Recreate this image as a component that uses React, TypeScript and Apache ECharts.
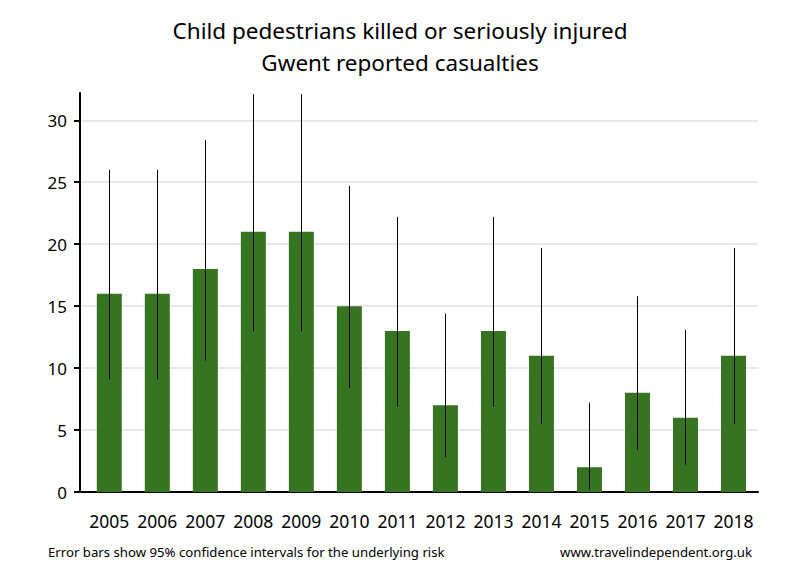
import React, { useEffect, useRef } from "react";
import * as echarts from "echarts";

const years = ["2005", "2006", "2007", "2008", "2009", "2010", "2011", "2012", "2013", "2014", "2015", "2016", "2017", "2018"];
const casualties = [16, 16, 18, 21, 21, 15, 13, 7, 13, 11, 2, 8, 6, 11];
const lowerCI = [9.1, 9.1, 10.6, 13.0, 13.0, 8.4, 6.9, 2.8, 6.9, 5.5, 0.2, 3.4, 2.2, 5.5];
const upperCI = [26.0, 26.0, 28.4, 32.1, 32.1, 24.7, 22.2, 14.4, 22.2, 19.7, 7.2, 15.8, 13.1, 19.7];
const yTicks = [0, 5, 10, 15, 20, 25, 30];

const FONT = "'Noto Sans', 'Open Sans', sans-serif";

export default function App() {
  const ref = useRef<HTMLDivElement>(null);
  useEffect(() => {
    if (!ref.current) return;
    const chart = echarts.init(ref.current, undefined, { renderer: "svg" });
    const idx = years.map((_, i) => i);
    chart.setOption({
      animation: false,
      backgroundColor: "#ffffff",
      title: {
        text: "Child pedestrians killed or seriously injured\nGwent reported casualties",
        left: "center",
        top: 9,
        textStyle: { fontFamily: FONT, fontSize: 22.5, fontWeight: "normal", color: "#000", lineHeight: 32 },
      },
      graphic: [
        {
          type: "text",
          left: 48,
          top: 545,
          style: { text: "Error bars show 95% confidence intervals for the underlying risk", font: `13.2px ${FONT}`, fill: "#000" },
        },
        {
          type: "text",
          right: 48,
          top: 545,
          style: { text: "www.travelindependent.org.uk", font: `13.2px ${FONT}`, fill: "#000" },
        },
      ],
      grid: { left: 80, right: 42, top: 93, bottom: 88, containLabel: false },
      xAxis: {
        type: "value",
        min: -0.61,
        max: 13.51,
        axisLine: { show: true, onZero: false, lineStyle: { color: "#000", width: 2 } },
        axisTick: { show: false },
        splitLine: { show: false },
        axisLabel: {
          customValues: idx,
          formatter: (v: number) => years[Math.round(v)] ?? "",
          fontFamily: FONT,
          fontSize: 17.5,
          color: "#000",
          margin: 20,
        },
      },
      yAxis: {
        type: "value",
        min: 0,
        max: 32.2,
        interval: 5,
        axisLine: { show: true, onZero: false, lineStyle: { color: "#000", width: 2 } },
        axisTick: { show: true, length: 6, customValues: yTicks, lineStyle: { color: "#000", width: 2 } },
        axisLabel: {
          customValues: yTicks,
          fontFamily: FONT,
          fontSize: 17,
          color: "#000",
          margin: 13,
        },
        splitLine: { show: true, lineStyle: { color: "#e8e8e8", width: 2 } },
      },
      series: [
        {
          type: "bar",
          barWidth: 25,
          itemStyle: { color: "#377422" },
          data: casualties.map((v, i) => [i, v]),
          z: 2,
        },
        {
          type: "custom",
          z: 3,
          clip: true,
          data: idx.map((i) => [i, lowerCI[i], upperCI[i]]),
          renderItem: (params: any, api: any) => {
            const x = api.value(0);
            const lo = api.coord([x, api.value(1)]);
            const hi = api.coord([x, api.value(2)]);
            return {
              type: "line",
              shape: { x1: Math.round(lo[0]) + 0.5, y1: lo[1], x2: Math.round(hi[0]) + 0.5, y2: hi[1] },
              style: { stroke: "#000", lineWidth: 1 },
            };
          },
        },
      ],
    });
    return () => chart.dispose();
  }, []);
  return <div ref={ref} style={{ width: 800, height: 580, margin: -8 }} />;
}
